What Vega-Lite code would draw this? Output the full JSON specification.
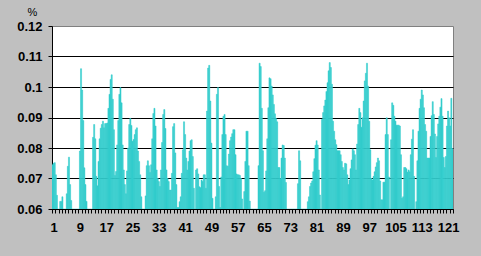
{
"$schema":"https://vega.github.io/schema/vega-lite/v6.json",
"width":401,"height":183,
"autosize":{"type":"none"},
"padding":{"left":52,"top":26,"right":28,"bottom":47},
"background":"#c0c0c0",
"config":{"view":{"fill":"white","stroke":"#808080","strokeWidth":1},"axis":{"labelFont":"Liberation Sans","titleFont":"Liberation Sans"}},
"data":{"values":[
{"c":1,"s":0,"v":0.0745},{"c":1,"s":1,"v":0.075},{"c":1,"s":2,"v":0.0752},
{"c":2,"s":0,"v":0.0712},{"c":2,"s":1,"v":0.0645},{"c":2,"s":2,"v":0.05},
{"c":3,"s":0,"v":0.05},{"c":3,"s":1,"v":0.0625},{"c":3,"s":2,"v":0.0625},
{"c":4,"s":0,"v":0.064},{"c":4,"s":1,"v":0.05},{"c":4,"s":2,"v":0.05},
{"c":5,"s":0,"v":0.05},{"c":5,"s":1,"v":0.065},{"c":5,"s":2,"v":0.074},
{"c":6,"s":0,"v":0.077},{"c":6,"s":1,"v":0.068},{"c":6,"s":2,"v":0.0628},
{"c":7,"s":0,"v":0.05},{"c":7,"s":1,"v":0.05},{"c":7,"s":2,"v":0.05},
{"c":8,"s":0,"v":0.05},{"c":8,"s":1,"v":0.05},{"c":8,"s":2,"v":0.05},
{"c":9,"s":0,"v":0.05},{"c":9,"s":1,"v":0.079},{"c":9,"s":2,"v":0.106},
{"c":10,"s":0,"v":0.099},{"c":10,"s":1,"v":0.089},{"c":10,"s":2,"v":0.0735},
{"c":11,"s":0,"v":0.068},{"c":11,"s":1,"v":0.0625},{"c":11,"s":2,"v":0.05},
{"c":12,"s":0,"v":0.05},{"c":12,"s":1,"v":0.05},{"c":12,"s":2,"v":0.05},
{"c":13,"s":0,"v":0.05},{"c":13,"s":1,"v":0.0835},{"c":13,"s":2,"v":0.0877},
{"c":14,"s":0,"v":0.083},{"c":14,"s":1,"v":0.0707},{"c":14,"s":2,"v":0.0676},
{"c":15,"s":0,"v":0.0756},{"c":15,"s":1,"v":0.083},{"c":15,"s":2,"v":0.0865},
{"c":16,"s":0,"v":0.0877},{"c":16,"s":1,"v":0.0888},{"c":16,"s":2,"v":0.0866},
{"c":17,"s":0,"v":0.088},{"c":17,"s":1,"v":0.088},{"c":17,"s":2,"v":0.0882},
{"c":18,"s":0,"v":0.093},{"c":18,"s":1,"v":0.0976},{"c":18,"s":2,"v":0.1025},
{"c":19,"s":0,"v":0.104},{"c":19,"s":1,"v":0.096},{"c":19,"s":2,"v":0.086},
{"c":20,"s":0,"v":0.071},{"c":20,"s":1,"v":0.0723},{"c":20,"s":2,"v":0.081},
{"c":21,"s":0,"v":0.089},{"c":21,"s":1,"v":0.0976},{"c":21,"s":2,"v":0.0998},
{"c":22,"s":0,"v":0.0948},{"c":22,"s":1,"v":0.081},{"c":22,"s":2,"v":0.0728},
{"c":23,"s":0,"v":0.068},{"c":23,"s":1,"v":0.065},{"c":23,"s":2,"v":0.0725},
{"c":24,"s":0,"v":0.08},{"c":24,"s":1,"v":0.0877},{"c":24,"s":2,"v":0.0897},
{"c":25,"s":0,"v":0.0874},{"c":25,"s":1,"v":0.0822},{"c":25,"s":2,"v":0.0828},
{"c":26,"s":0,"v":0.0844},{"c":26,"s":1,"v":0.086},{"c":26,"s":2,"v":0.0866},
{"c":27,"s":0,"v":0.079},{"c":27,"s":1,"v":0.0756},{"c":27,"s":2,"v":0.0712},
{"c":28,"s":0,"v":0.064},{"c":28,"s":1,"v":0.05},{"c":28,"s":2,"v":0.05},
{"c":29,"s":0,"v":0.05},{"c":29,"s":1,"v":0.0643},{"c":29,"s":2,"v":0.0742},
{"c":30,"s":0,"v":0.0758},{"c":30,"s":1,"v":0.0742},{"c":30,"s":2,"v":0.072},
{"c":31,"s":0,"v":0.0745},{"c":31,"s":1,"v":0.083},{"c":31,"s":2,"v":0.0913},
{"c":32,"s":0,"v":0.093},{"c":32,"s":1,"v":0.0872},{"c":32,"s":2,"v":0.0728},
{"c":33,"s":0,"v":0.07},{"c":33,"s":1,"v":0.069},{"c":33,"s":2,"v":0.0674},
{"c":34,"s":0,"v":0.0728},{"c":34,"s":1,"v":0.0818},{"c":34,"s":2,"v":0.091},
{"c":35,"s":0,"v":0.0926},{"c":35,"s":1,"v":0.0864},{"c":35,"s":2,"v":0.0728},
{"c":36,"s":0,"v":0.07},{"c":36,"s":1,"v":0.069},{"c":36,"s":2,"v":0.0662},
{"c":37,"s":0,"v":0.0662},{"c":37,"s":1,"v":0.0717},{"c":37,"s":2,"v":0.087},
{"c":38,"s":0,"v":0.088},{"c":38,"s":1,"v":0.0784},{"c":38,"s":2,"v":0.068},
{"c":39,"s":0,"v":0.0605},{"c":39,"s":1,"v":0.0605},{"c":39,"s":2,"v":0.0624},
{"c":40,"s":0,"v":0.064},{"c":40,"s":1,"v":0.0717},{"c":40,"s":2,"v":0.0794},
{"c":41,"s":0,"v":0.0886},{"c":41,"s":1,"v":0.0844},{"c":41,"s":2,"v":0.0767},
{"c":42,"s":0,"v":0.0728},{"c":42,"s":1,"v":0.0756},{"c":42,"s":2,"v":0.079},
{"c":43,"s":0,"v":0.0824},{"c":43,"s":1,"v":0.0827},{"c":43,"s":2,"v":0.0772},
{"c":44,"s":0,"v":0.0668},{"c":44,"s":1,"v":0.05},{"c":44,"s":2,"v":0.0728},
{"c":45,"s":0,"v":0.0732},{"c":45,"s":1,"v":0.0715},{"c":45,"s":2,"v":0.0673},
{"c":46,"s":0,"v":0.067},{"c":46,"s":1,"v":0.0695},{"c":46,"s":2,"v":0.069},
{"c":47,"s":0,"v":0.0712},{"c":47,"s":1,"v":0.0712},{"c":47,"s":2,"v":0.0668},
{"c":48,"s":0,"v":0.0921},{"c":48,"s":1,"v":0.1062},{"c":48,"s":2,"v":0.1071},
{"c":49,"s":0,"v":0.0954},{"c":49,"s":1,"v":0.0816},{"c":49,"s":2,"v":0.0635},
{"c":50,"s":0,"v":0.05},{"c":50,"s":1,"v":0.05},{"c":50,"s":2,"v":0.064},
{"c":51,"s":0,"v":0.0976},{"c":51,"s":1,"v":0.0998},{"c":51,"s":2,"v":0.0674},
{"c":52,"s":0,"v":0.0605},{"c":52,"s":1,"v":0.0705},{"c":52,"s":2,"v":0.0844},
{"c":53,"s":0,"v":0.0904},{"c":53,"s":1,"v":0.091},{"c":53,"s":2,"v":0.0844},
{"c":54,"s":0,"v":0.0742},{"c":54,"s":1,"v":0.074},{"c":54,"s":2,"v":0.078},
{"c":55,"s":0,"v":0.0824},{"c":55,"s":1,"v":0.0836},{"c":55,"s":2,"v":0.0847},
{"c":56,"s":0,"v":0.086},{"c":56,"s":1,"v":0.086},{"c":56,"s":2,"v":0.0778},
{"c":57,"s":0,"v":0.0715},{"c":57,"s":1,"v":0.0712},{"c":57,"s":2,"v":0.0712},
{"c":58,"s":0,"v":0.071},{"c":58,"s":1,"v":0.07},{"c":58,"s":2,"v":0.0633},
{"c":59,"s":0,"v":0.05},{"c":59,"s":1,"v":0.0657},{"c":59,"s":2,"v":0.0756},
{"c":60,"s":0,"v":0.0855},{"c":60,"s":1,"v":0.0855},{"c":60,"s":2,"v":0.0742},
{"c":61,"s":0,"v":0.0626},{"c":61,"s":1,"v":0.05},{"c":61,"s":2,"v":0.05},
{"c":62,"s":0,"v":0.05},{"c":62,"s":1,"v":0.05},{"c":62,"s":2,"v":0.05},
{"c":63,"s":0,"v":0.05},{"c":63,"s":1,"v":0.05},{"c":63,"s":2,"v":0.0742},
{"c":64,"s":0,"v":0.1078},{"c":64,"s":1,"v":0.1067},{"c":64,"s":2,"v":0.093},
{"c":65,"s":0,"v":0.0791},{"c":65,"s":1,"v":0.0655},{"c":65,"s":2,"v":0.066},
{"c":66,"s":0,"v":0.0725},{"c":66,"s":1,"v":0.083},{"c":66,"s":2,"v":0.0932},
{"c":67,"s":0,"v":0.103},{"c":67,"s":1,"v":0.1027},{"c":67,"s":2,"v":0.1003},
{"c":68,"s":0,"v":0.0974},{"c":68,"s":1,"v":0.0943},{"c":68,"s":2,"v":0.0912},
{"c":69,"s":0,"v":0.0897},{"c":69,"s":1,"v":0.0886},{"c":69,"s":2,"v":0.0736},
{"c":70,"s":0,"v":0.0736},{"c":70,"s":1,"v":0.07},{"c":70,"s":2,"v":0.0767},
{"c":71,"s":0,"v":0.081},{"c":71,"s":1,"v":0.0808},{"c":71,"s":2,"v":0.0767},
{"c":72,"s":0,"v":0.0687},{"c":72,"s":1,"v":0.05},{"c":72,"s":2,"v":0.05},
{"c":73,"s":0,"v":0.05},{"c":73,"s":1,"v":0.05},{"c":73,"s":2,"v":0.05},
{"c":74,"s":0,"v":0.05},{"c":74,"s":1,"v":0.05},{"c":74,"s":2,"v":0.05},
{"c":75,"s":0,"v":0.05},{"c":75,"s":1,"v":0.05},{"c":75,"s":2,"v":0.0683},
{"c":76,"s":0,"v":0.0791},{"c":76,"s":1,"v":0.0758},{"c":76,"s":2,"v":0.05},
{"c":77,"s":0,"v":0.05},{"c":77,"s":1,"v":0.05},{"c":77,"s":2,"v":0.05},
{"c":78,"s":0,"v":0.05},{"c":78,"s":1,"v":0.05},{"c":78,"s":2,"v":0.0624},
{"c":79,"s":0,"v":0.064},{"c":79,"s":1,"v":0.0674},{"c":79,"s":2,"v":0.0685},
{"c":80,"s":0,"v":0.0692},{"c":80,"s":1,"v":0.0722},{"c":80,"s":2,"v":0.0765},
{"c":81,"s":0,"v":0.0809},{"c":81,"s":1,"v":0.0824},{"c":81,"s":2,"v":0.081},
{"c":82,"s":0,"v":0.0728},{"c":82,"s":1,"v":0.0646},{"c":82,"s":2,"v":0.05},
{"c":83,"s":0,"v":0.0894},{"c":83,"s":1,"v":0.0916},{"c":83,"s":2,"v":0.0938},
{"c":84,"s":0,"v":0.0957},{"c":84,"s":1,"v":0.0985},{"c":84,"s":2,"v":0.1014},
{"c":85,"s":0,"v":0.1053},{"c":85,"s":1,"v":0.108},{"c":85,"s":2,"v":0.1064},
{"c":86,"s":0,"v":0.1009},{"c":86,"s":1,"v":0.0888},{"c":86,"s":2,"v":0.0855},
{"c":87,"s":0,"v":0.0827},{"c":87,"s":1,"v":0.0811},{"c":87,"s":2,"v":0.0791},
{"c":88,"s":0,"v":0.0791},{"c":88,"s":1,"v":0.0791},{"c":88,"s":2,"v":0.0778},
{"c":89,"s":0,"v":0.0756},{"c":89,"s":1,"v":0.0736},{"c":89,"s":2,"v":0.0728},
{"c":90,"s":0,"v":0.075},{"c":90,"s":1,"v":0.0748},{"c":90,"s":2,"v":0.0712},
{"c":91,"s":0,"v":0.068},{"c":91,"s":1,"v":0.0695},{"c":91,"s":2,"v":0.0732},
{"c":92,"s":0,"v":0.0761},{"c":92,"s":1,"v":0.0797},{"c":92,"s":2,"v":0.0791},
{"c":93,"s":0,"v":0.0778},{"c":93,"s":1,"v":0.0728},{"c":93,"s":2,"v":0.0813},
{"c":94,"s":0,"v":0.0877},{"c":94,"s":1,"v":0.093},{"c":94,"s":2,"v":0.0916},
{"c":95,"s":0,"v":0.0868},{"c":95,"s":1,"v":0.0899},{"c":95,"s":2,"v":0.0954},
{"c":96,"s":0,"v":0.102},{"c":96,"s":1,"v":0.1045},{"c":96,"s":2,"v":0.1078},
{"c":97,"s":0,"v":0.1003},{"c":97,"s":1,"v":0.0888},{"c":97,"s":2,"v":0.0794},
{"c":98,"s":0,"v":0.07},{"c":98,"s":1,"v":0.0695},{"c":98,"s":2,"v":0.0707},
{"c":99,"s":0,"v":0.0722},{"c":99,"s":1,"v":0.0738},{"c":99,"s":2,"v":0.0752},
{"c":100,"s":0,"v":0.0767},{"c":100,"s":1,"v":0.0758},{"c":100,"s":2,"v":0.0692},
{"c":101,"s":0,"v":0.063},{"c":101,"s":1,"v":0.063},{"c":101,"s":2,"v":0.0688},
{"c":102,"s":0,"v":0.0688},{"c":102,"s":1,"v":0.0844},{"c":102,"s":2,"v":0.0899},
{"c":103,"s":0,"v":0.0844},{"c":103,"s":1,"v":0.0705},{"c":103,"s":2,"v":0.05},
{"c":104,"s":0,"v":0.0827},{"c":104,"s":1,"v":0.0948},{"c":104,"s":2,"v":0.094},
{"c":105,"s":0,"v":0.0904},{"c":105,"s":1,"v":0.0888},{"c":105,"s":2,"v":0.0875},
{"c":106,"s":0,"v":0.0875},{"c":106,"s":1,"v":0.0875},{"c":106,"s":2,"v":0.0872},
{"c":107,"s":0,"v":0.0778},{"c":107,"s":1,"v":0.0635},{"c":107,"s":2,"v":0.064},
{"c":108,"s":0,"v":0.0736},{"c":108,"s":1,"v":0.0736},{"c":108,"s":2,"v":0.0732},
{"c":109,"s":0,"v":0.0721},{"c":109,"s":1,"v":0.0728},{"c":109,"s":2,"v":0.0722},
{"c":110,"s":0,"v":0.0778},{"c":110,"s":1,"v":0.0829},{"c":110,"s":2,"v":0.086},
{"c":111,"s":0,"v":0.0707},{"c":111,"s":1,"v":0.05},{"c":111,"s":2,"v":0.0624},
{"c":112,"s":0,"v":0.0758},{"c":112,"s":1,"v":0.0855},{"c":112,"s":2,"v":0.093},
{"c":113,"s":0,"v":0.096},{"c":113,"s":1,"v":0.099},{"c":113,"s":2,"v":0.0974},
{"c":114,"s":0,"v":0.0932},{"c":114,"s":1,"v":0.0877},{"c":114,"s":2,"v":0.0855},
{"c":115,"s":0,"v":0.0767},{"c":115,"s":1,"v":0.0767},{"c":115,"s":2,"v":0.0767},
{"c":116,"s":0,"v":0.0838},{"c":116,"s":1,"v":0.0906},{"c":116,"s":2,"v":0.0952},
{"c":117,"s":0,"v":0.091},{"c":117,"s":1,"v":0.0846},{"c":117,"s":2,"v":0.0769},
{"c":118,"s":0,"v":0.0838},{"c":118,"s":1,"v":0.0879},{"c":118,"s":2,"v":0.0904},
{"c":119,"s":0,"v":0.0934},{"c":119,"s":1,"v":0.0962},{"c":119,"s":2,"v":0.0904},
{"c":120,"s":0,"v":0.0769},{"c":120,"s":1,"v":0.0736},{"c":120,"s":2,"v":0.0772},
{"c":121,"s":0,"v":0.0872},{"c":121,"s":1,"v":0.0921},{"c":121,"s":2,"v":0.0899},
{"c":122,"s":0,"v":0.0872},{"c":122,"s":1,"v":0.0963},{"c":122,"s":2,"v":0.0798}
]},
"mark":{"type":"bar","color":"#33cccc","stroke":"#33cccc","strokeWidth":0.5,"clip":true},
"encoding":{
"x":{"field":"c","type":"ordinal","scale":{"paddingInner":0,"paddingOuter":0},
"axis":{"title":null,"tickBand":"extent","labelExpr":"(datum.value - 1) % 8 == 0 ? datum.label : ''","labelAngle":0,"labelFontSize":13,"labelFontWeight":"bold","labelColor":"black","labelPadding":8,"labelOverlap":false,"labelBound":false,"labelFlush":false,"tickSize":4,"tickColor":"black","domainColor":"black","grid":false}},
"xOffset":{"field":"s","type":"ordinal","scale":{"paddingInner":0,"paddingOuter":0}},
"y":{"field":"v","type":"quantitative","scale":{"domain":[0.06,0.12],"zero":false,"nice":false},
"axis":{"title":"%","titleAngle":0,"titleX":-20,"titleY":-11,"titleAlign":"center","titleBaseline":"alphabetic","titleFontSize":11,"titleFontWeight":"normal","titleColor":"black","values":[0.06,0.07,0.08,0.09,0.1,0.11,0.12],"format":"~g","labelFontSize":13,"labelFontWeight":"bold","labelColor":"black","labelPadding":6,"labelBound":false,"labelFlush":false,"tickSize":4,"tickColor":"black","domainColor":"black","grid":true,"gridColor":"black","gridOpacity":{"condition":{"test":"datum.value > 0.115","value":0},"value":1}}},
"y2":{"datum":0.06}
}
}
